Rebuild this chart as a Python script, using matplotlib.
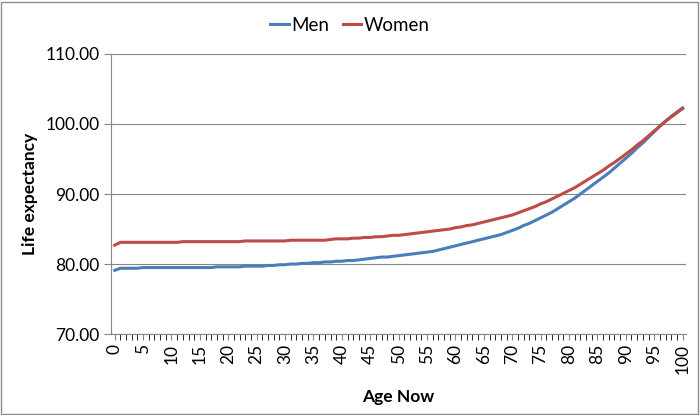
import numpy as np
import matplotlib
matplotlib.use('Agg')
import matplotlib.pyplot as plt
from matplotlib.patches import Rectangle

ages = list(range(101))

men = [79.1, 79.4, 79.4, 79.4, 79.4,
       79.5, 79.5, 79.5, 79.5, 79.5, 79.5, 79.5, 79.5, 79.5, 79.5, 79.5, 79.5, 79.5,
       79.6, 79.6, 79.6, 79.6, 79.6,
       79.7, 79.7, 79.7, 79.7, 79.8, 79.8,
       79.9, 79.9, 80.0, 80.0,
       80.1, 80.1, 80.2, 80.2, 80.3,
       80.3, 80.4, 80.4, 80.5, 80.5,
       80.6, 80.7, 80.8, 80.9, 81.0, 81.0, 81.1, 81.2,
       81.3, 81.4, 81.5, 81.6, 81.7, 81.8, 82.0, 82.2, 82.4, 82.6,
       82.8, 83.0, 83.2, 83.4, 83.6, 83.8, 84.0, 84.2, 84.5, 84.8,
       85.1, 85.5, 85.8, 86.2, 86.6, 87.0, 87.4, 87.9, 88.4, 88.9,
       89.4, 90.0, 90.6, 91.2, 91.8, 92.4, 93.0, 93.7, 94.4, 95.1,
       95.8, 96.6, 97.3, 98.1, 98.9, 99.7, 100.4, 101.1, 101.7, 102.3]

women = [82.7,
         83.1, 83.1, 83.1, 83.1, 83.1, 83.1, 83.1, 83.1, 83.1, 83.1, 83.1,
         83.2, 83.2, 83.2, 83.2, 83.2, 83.2, 83.2, 83.2, 83.2, 83.2, 83.2,
         83.3, 83.3, 83.3, 83.3, 83.3, 83.3, 83.3, 83.3,
         83.4, 83.4, 83.4, 83.4, 83.4, 83.4, 83.4,
         83.5, 83.6, 83.6, 83.6, 83.7,
         83.7, 83.8, 83.8, 83.9, 83.9, 84.0, 84.1, 84.1,
         84.2, 84.3, 84.4, 84.5, 84.6, 84.7, 84.8, 84.9, 85.0, 85.2,
         85.3, 85.5, 85.6, 85.8, 86.0, 86.2, 86.4, 86.6, 86.8, 87.0,
         87.3, 87.6, 87.9, 88.2, 88.6, 88.9, 89.3, 89.7, 90.1, 90.5,
         90.9, 91.4, 91.9, 92.4, 92.9, 93.4, 94.0, 94.5, 95.1, 95.7,
         96.3, 97.0, 97.6, 98.3, 99.0, 99.7, 100.4, 101.0, 101.6, 102.2]

y_ticks = [70, 80, 90, 100, 110]

plt.rcParams['font.family'] = ['Lato', 'DejaVu Sans']

fig = plt.figure(figsize=(7, 4.15), dpi=100)
ax = fig.add_axes([0.159, 0.195, 0.821, 0.675])

# outer chart border
fig.patches.append(Rectangle((0.002, 0.003), 0.995, 0.993, transform=fig.transFigure,
                             fill=False, edgecolor='#8c8c8c', linewidth=1.0))

ax.plot(ages, men, color='#4A7EBB', linewidth=2.2, label='Men')
ax.plot(ages, women, color='#BE4B48', linewidth=2.2, label='Women')

ax.set_xlim(-0.6, 100.6)
ax.set_ylim(70, 110)
ax.set_yticks(y_ticks)
ax.set_yticklabels([f'{v:.2f}' for v in y_ticks], fontsize=12.5)
ax.set_xticks(range(0, 101, 5))
ax.set_xticklabels([str(a) for a in range(0, 101, 5)], rotation=90, fontsize=12.5)
ax.set_xticks(range(101), minor=True)

ax.grid(axis='y', color='#868686', linewidth=0.8)
ax.set_axisbelow(True)
for s in ['top', 'right']:
    ax.spines[s].set_visible(False)
for s in ['left', 'bottom']:
    ax.spines[s].set_color('#868686')
    ax.spines[s].set_linewidth(0.8)
ax.tick_params(axis='both', colors='#868686', labelcolor='black', width=0.8)
ax.tick_params(axis='y', length=5)
ax.tick_params(axis='x', which='both', length=4, pad=3)

ax.set_xlabel('Age Now', fontsize=12.5, fontweight='bold', labelpad=11)
ax.set_ylabel('Life expectancy', fontsize=12.5, fontweight='bold', labelpad=5)

fig.legend(loc='upper center', bbox_to_anchor=(0.5, 1.0), ncol=2, frameon=False,
           fontsize=13.5, handlelength=1.0, handletextpad=0.15, columnspacing=0.7)

fig.savefig('out.png', dpi=100)
